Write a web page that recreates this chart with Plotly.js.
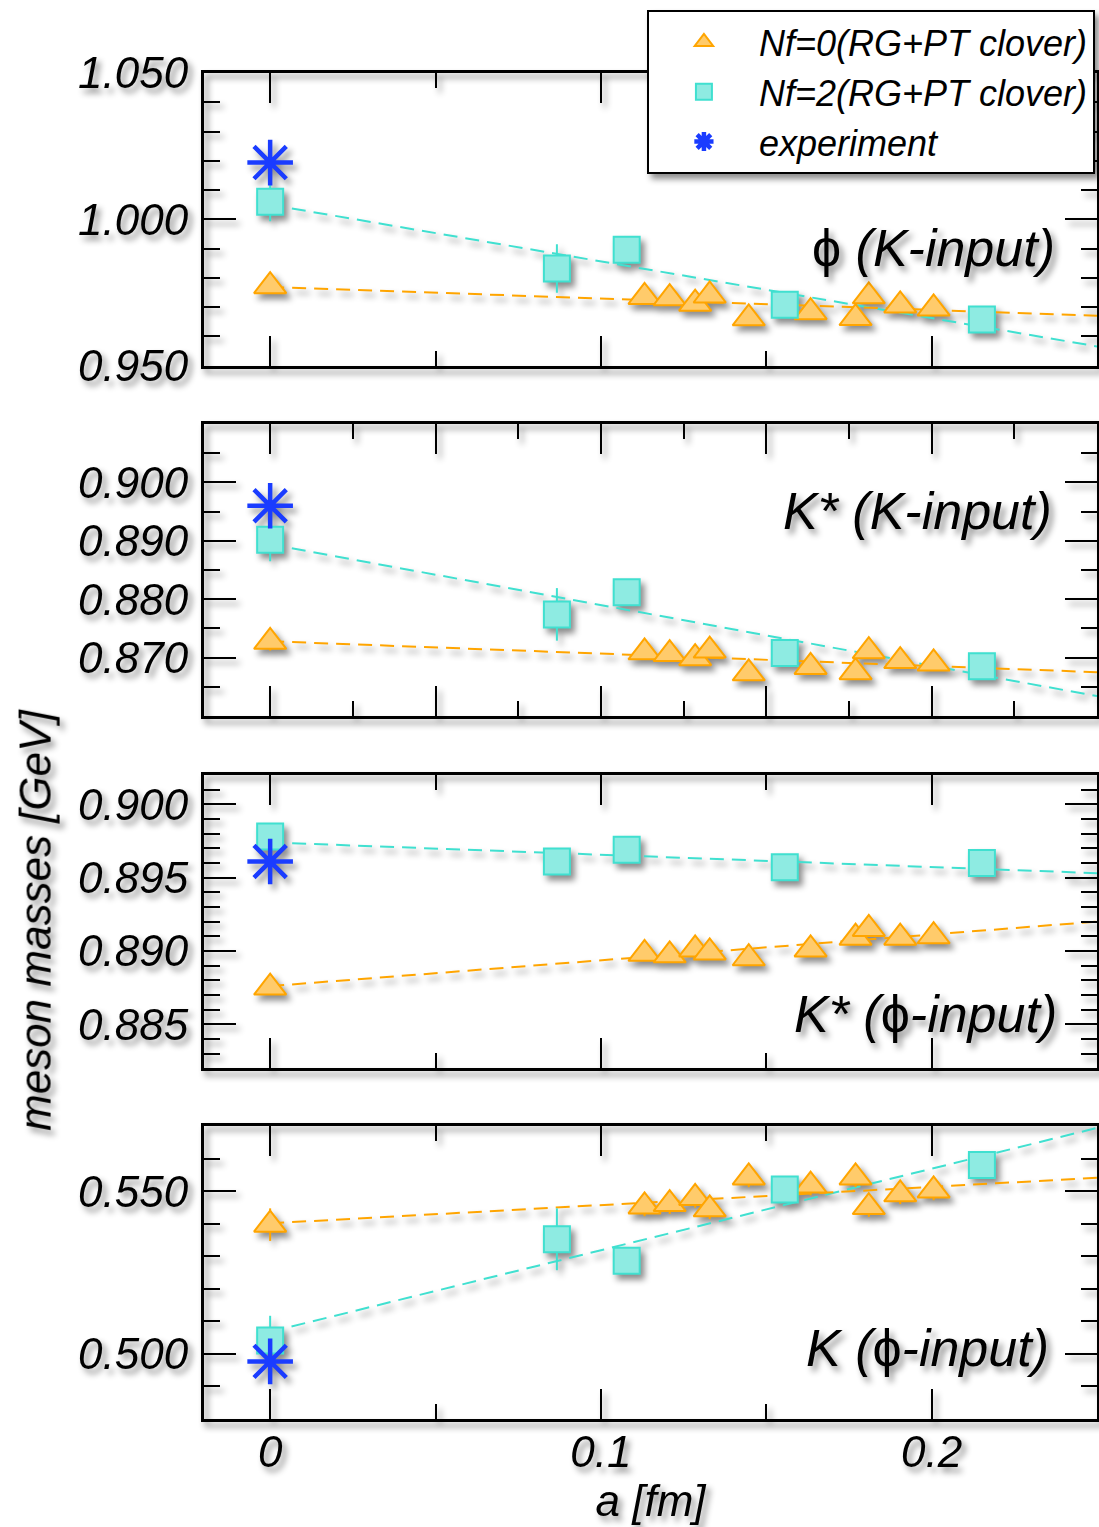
<!DOCTYPE html>
<html>
<head>
<meta charset="utf-8">
<script src="https://cdn.plot.ly/plotly-3.0.1.min.js"></script>
<style>
  html, body { margin: 0; padding: 0; background: #ffffff; }
  #chart { width: 1099px; height: 1527px; }
  #chart .main-svg { filter: drop-shadow(4px 5px 3px rgba(0,0,0,0.45)); }
</style>
</head>
<body>
<div id="chart"></div>
<script>
// ---------------- data (a in fm, masses in GeV) ----------------
// lattice spacings; first entry (0) is the continuum extrapolation
const a_nf0 = [0, 0.1132, 0.1208, 0.1285, 0.1329, 0.1447, 0.1634, 0.1770, 0.1810, 0.1905, 0.2006];
const a_nf2 = [0, 0.0867, 0.1078, 0.1556, 0.2152];
const a_exp = [0];
const a_fit = [0, 0.25];

// phi (K-input)
const phiK_nf0 = [0.9772, 0.9735, 0.9731, 0.9712, 0.9740, 0.9662, 0.9683, 0.9663, 0.9737, 0.9706, 0.9696];
const phiK_nf0_err = [0.0025, 0.002, 0.002, 0.002, 0.002, 0.002, 0.002, 0.002, 0.002, 0.002, 0.002];
const phiK_nf2 = [1.0060, 0.9832, 0.9896, 0.9708, 0.9658];
const phiK_nf2_err = [0.0066, 0.0083, 0.003, 0.002, 0.002];
const phiK_nf0_fit = [0.9769, 0.9671];
const phiK_nf2_fit = [1.0050, 0.9566];
const phi_exp = [1.0194];

// K* (K-input)
const kstK_nf0 = [0.8727, 0.8709, 0.8706, 0.8699, 0.8712, 0.8673, 0.8684, 0.8675, 0.8711, 0.8694, 0.8690];
const kstK_nf0_err = [0.0015, 0.001, 0.001, 0.001, 0.001, 0.001, 0.001, 0.001, 0.001, 0.001, 0.001];
const kstK_nf2 = [0.8902, 0.8774, 0.8812, 0.8708, 0.8685];
const kstK_nf2_err = [0.0037, 0.0045, 0.0015, 0.001, 0.001];
const kstK_nf0_fit = [0.8728, 0.8675];
const kstK_nf2_fit = [0.8894, 0.8634];
const kst_exp = [0.8960];

// K* (phi-input)
const kstP_nf0 = [0.8875, 0.8898, 0.8897, 0.8901, 0.8899, 0.8895, 0.8901, 0.8909, 0.8915, 0.8909, 0.8910];
const kstP_nf0_err = [0.0005, 0.0004, 0.0004, 0.0004, 0.0004, 0.0004, 0.0004, 0.0004, 0.0004, 0.0004, 0.0004];
const kstP_nf2 = [0.8978, 0.8961, 0.8969, 0.8957, 0.8960];
const kstP_nf2_err = [0.0008, 0.0008, 0.0005, 0.0005, 0.0005];
const kstP_nf0_fit = [0.8876, 0.8920];
const kstP_nf2_fit = [0.8974, 0.8953];
const kstP_exp = [0.8961];

// K (phi-input)
const kP_nf0 = [0.5397, 0.5453, 0.5460, 0.5479, 0.5444, 0.5542, 0.5517, 0.5542, 0.5451, 0.5490, 0.5502];
const kP_nf0_err = [0.005, 0.003, 0.003, 0.003, 0.003, 0.003, 0.003, 0.003, 0.003, 0.003, 0.003];
const kP_nf2 = [0.5041, 0.5352, 0.5286, 0.5505, 0.5580];
const kP_nf2_err = [0.0076, 0.0095, 0.003, 0.003, 0.003];
const kP_nf0_fit = [0.5401, 0.5541];
const kP_nf2_fit = [0.5068, 0.5694];
const k_exp = [0.4977];

// labels
const legendNames = ['Nf=0(RG+PT clover)', 'Nf=2(RG+PT clover)', 'experiment'];
const panelLabels = [
  '<span style="font-style:normal">ϕ</span> (K-input)',
  'K* (K-input)',
  'K* (<span style="font-style:normal">ϕ</span>-input)',
  'K (<span style="font-style:normal">ϕ</span>-input)'
];
const yTickVals = [
  [0.95, 1.0, 1.05],
  [0.87, 0.88, 0.89, 0.90],
  [0.885, 0.890, 0.895, 0.900],
  [0.50, 0.55]
];
const yRanges = [[0.95, 1.05], [0.86, 0.91], [0.882, 0.902], [0.48, 0.57]];
const yMinor = [0.01, 0.005, 0.001, 0.01];
const xTickVals = [0, 0.1, 0.2];
const xTitle = 'a [fm]';
const yTitle = 'meson masses [GeV]';

// ---------------- styling ----------------
const FONT = 'Liberation Sans, Arial, Helvetica, sans-serif';
const ORANGE = '#FFA500';
const ORANGE_FILL = '#FFCB6B';
const CYAN = '#40E0D0';
const CYAN_FILL = '#8EEBE2';
const BLUE = '#1a3cff';

const panels = [
  {nf0: phiK_nf0, nf0e: phiK_nf0_err, nf2: phiK_nf2, nf2e: phiK_nf2_err, f0: phiK_nf0_fit, f2: phiK_nf2_fit, exp: phi_exp},
  {nf0: kstK_nf0, nf0e: kstK_nf0_err, nf2: kstK_nf2, nf2e: kstK_nf2_err, f0: kstK_nf0_fit, f2: kstK_nf2_fit, exp: kst_exp},
  {nf0: kstP_nf0, nf0e: kstP_nf0_err, nf2: kstP_nf2, nf2e: kstP_nf2_err, f0: kstP_nf0_fit, f2: kstP_nf2_fit, exp: kstP_exp},
  {nf0: kP_nf0, nf0e: kP_nf0_err, nf2: kP_nf2, nf2e: kP_nf2_err, f0: kP_nf0_fit, f2: kP_nf2_fit, exp: k_exp}
];

const traces = [];
panels.forEach((p, i) => {
  const xa = i === 0 ? 'x' : 'x' + (i + 1);
  const ya = i === 0 ? 'y' : 'y' + (i + 1);
  const first = i === 0;
  traces.push({x: a_fit, y: p.f2, xaxis: xa, yaxis: ya, mode: 'lines', showlegend: false,
    line: {color: CYAN, width: 2, dash: '14px,8px'}, hoverinfo: 'skip'});
  traces.push({x: a_fit, y: p.f0, xaxis: xa, yaxis: ya, mode: 'lines', showlegend: false,
    line: {color: ORANGE, width: 2, dash: '14px,8px'}, hoverinfo: 'skip'});
  traces.push({x: a_nf0, y: p.nf0, xaxis: xa, yaxis: ya, mode: 'markers', type: 'scatter',
    name: legendNames[0], showlegend: first, legendgroup: 'g0',
    error_y: {type: 'data', array: p.nf0e, visible: true, color: ORANGE, thickness: 2, width: 0},
    marker: {symbol: 'triangle-up', size: 28, color: ORANGE_FILL, line: {color: ORANGE, width: 2}}});
  traces.push({x: a_nf2, y: p.nf2, xaxis: xa, yaxis: ya, mode: 'markers', type: 'scatter',
    name: legendNames[1], showlegend: first, legendgroup: 'g1',
    error_y: {type: 'data', array: p.nf2e, visible: true, color: CYAN, thickness: 2, width: 0},
    marker: {symbol: 'square', size: 26, color: CYAN_FILL, line: {color: CYAN, width: 2}}});
  traces.push({x: a_exp, y: p.exp, xaxis: xa, yaxis: ya, mode: 'markers', type: 'scatter',
    name: legendNames[2], showlegend: first, legendgroup: 'g2',
    marker: {symbol: 'asterisk-open', size: 38, color: BLUE, line: {color: BLUE, width: 4.5}}});
});

// domains in paper fraction (bottom -> top)
const yDomains = [[0.7825, 1.0], [0.5223, 0.7392], [0.2606, 0.4785], [0.0, 0.2177]];
const labelY = [0.402, 0.702, 0.185, 0.243];
const labelX = [0.955, 0.952, 0.958, 0.948];

const tickFont = {family: FONT, size: 44, style: 'italic', color: '#000'};
const layout = {
  width: 1099, height: 1527,
  margin: {l: 204, r: 2, t: 73, b: 108},
  paper_bgcolor: 'rgba(0,0,0,0)',
  plot_bgcolor: 'rgba(0,0,0,0)',
  font: {family: FONT, color: '#000'},
  showlegend: true,
  legend: {
    x: 0.496, y: 1.0468, xanchor: 'left', yanchor: 'top',
    bgcolor: '#ffffff', bordercolor: '#000', borderwidth: 2,
    font: {family: FONT, size: 36, style: 'italic', color: '#000'},
    itemwidth: 100, tracegroupgap: 0
  },
  annotations: []
};

for (let i = 0; i < 4; i++) {
  const sfx = i === 0 ? '' : String(i + 1);
  const majorX = i === 1 ? 0.05 : 0.1;
  const minorX = i === 1 ? 0.025 : 0.05;
  layout['xaxis' + sfx] = {
    domain: [0, 1], anchor: 'y' + sfx, range: [-0.02, 0.25],
    showline: true, linecolor: '#000', linewidth: 3, mirror: 'ticks',
    ticks: 'inside', ticklen: 30, tickwidth: 2, tickcolor: '#000',
    tickmode: 'linear', tick0: 0, dtick: majorX,
    minor: {tickmode: 'linear', tick0: 0, dtick: minorX, ticks: 'inside', ticklen: 15, tickwidth: 2, tickcolor: '#000'},
    showticklabels: i === 3,
    showgrid: false, zeroline: false,
    tickfont: tickFont
  };
  layout['yaxis' + sfx] = {
    domain: yDomains[i], anchor: 'x' + sfx, range: yRanges[i],
    showline: true, linecolor: '#000', linewidth: 3, mirror: 'ticks',
    ticks: 'inside', ticklen: 32, tickwidth: 2, tickcolor: '#000',
    tickmode: 'array', tickvals: yTickVals[i], tickformat: '.3f',
    minor: {tickmode: 'linear', tick0: 0, dtick: yMinor[i], ticks: 'inside', ticklen: 16, tickwidth: 2, tickcolor: '#000'},
    ticklabelstandoff: 4,
    showgrid: false, zeroline: false,
    tickfont: tickFont
  };
  layout.annotations.push({
    text: panelLabels[i], xref: 'paper', yref: 'y' + sfx + ' domain',
    x: labelX[i], y: labelY[i], xanchor: 'right', yanchor: 'middle', showarrow: false,
    font: {family: FONT, size: 52, style: 'italic', color: '#000'}
  });
}
layout.xaxis4.tickmode = 'array';
layout.xaxis4.tickvals = xTickVals;
layout.xaxis4.ticklabelstandoff = -8;
layout.xaxis4.title = {text: xTitle, font: {family: FONT, size: 44, style: 'italic', color: '#000'}, standoff: 10};
layout.annotations.push({
  text: yTitle, xref: 'paper', yref: 'paper', x: -0.189, y: 0.371,
  xanchor: 'center', yanchor: 'middle', textangle: -90, showarrow: false,
  font: {family: FONT, size: 44, style: 'italic', color: '#000'}
});

Plotly.newPlot('chart', traces, layout, {staticPlot: true, displayModeBar: false});
</script>
</body>
</html>
